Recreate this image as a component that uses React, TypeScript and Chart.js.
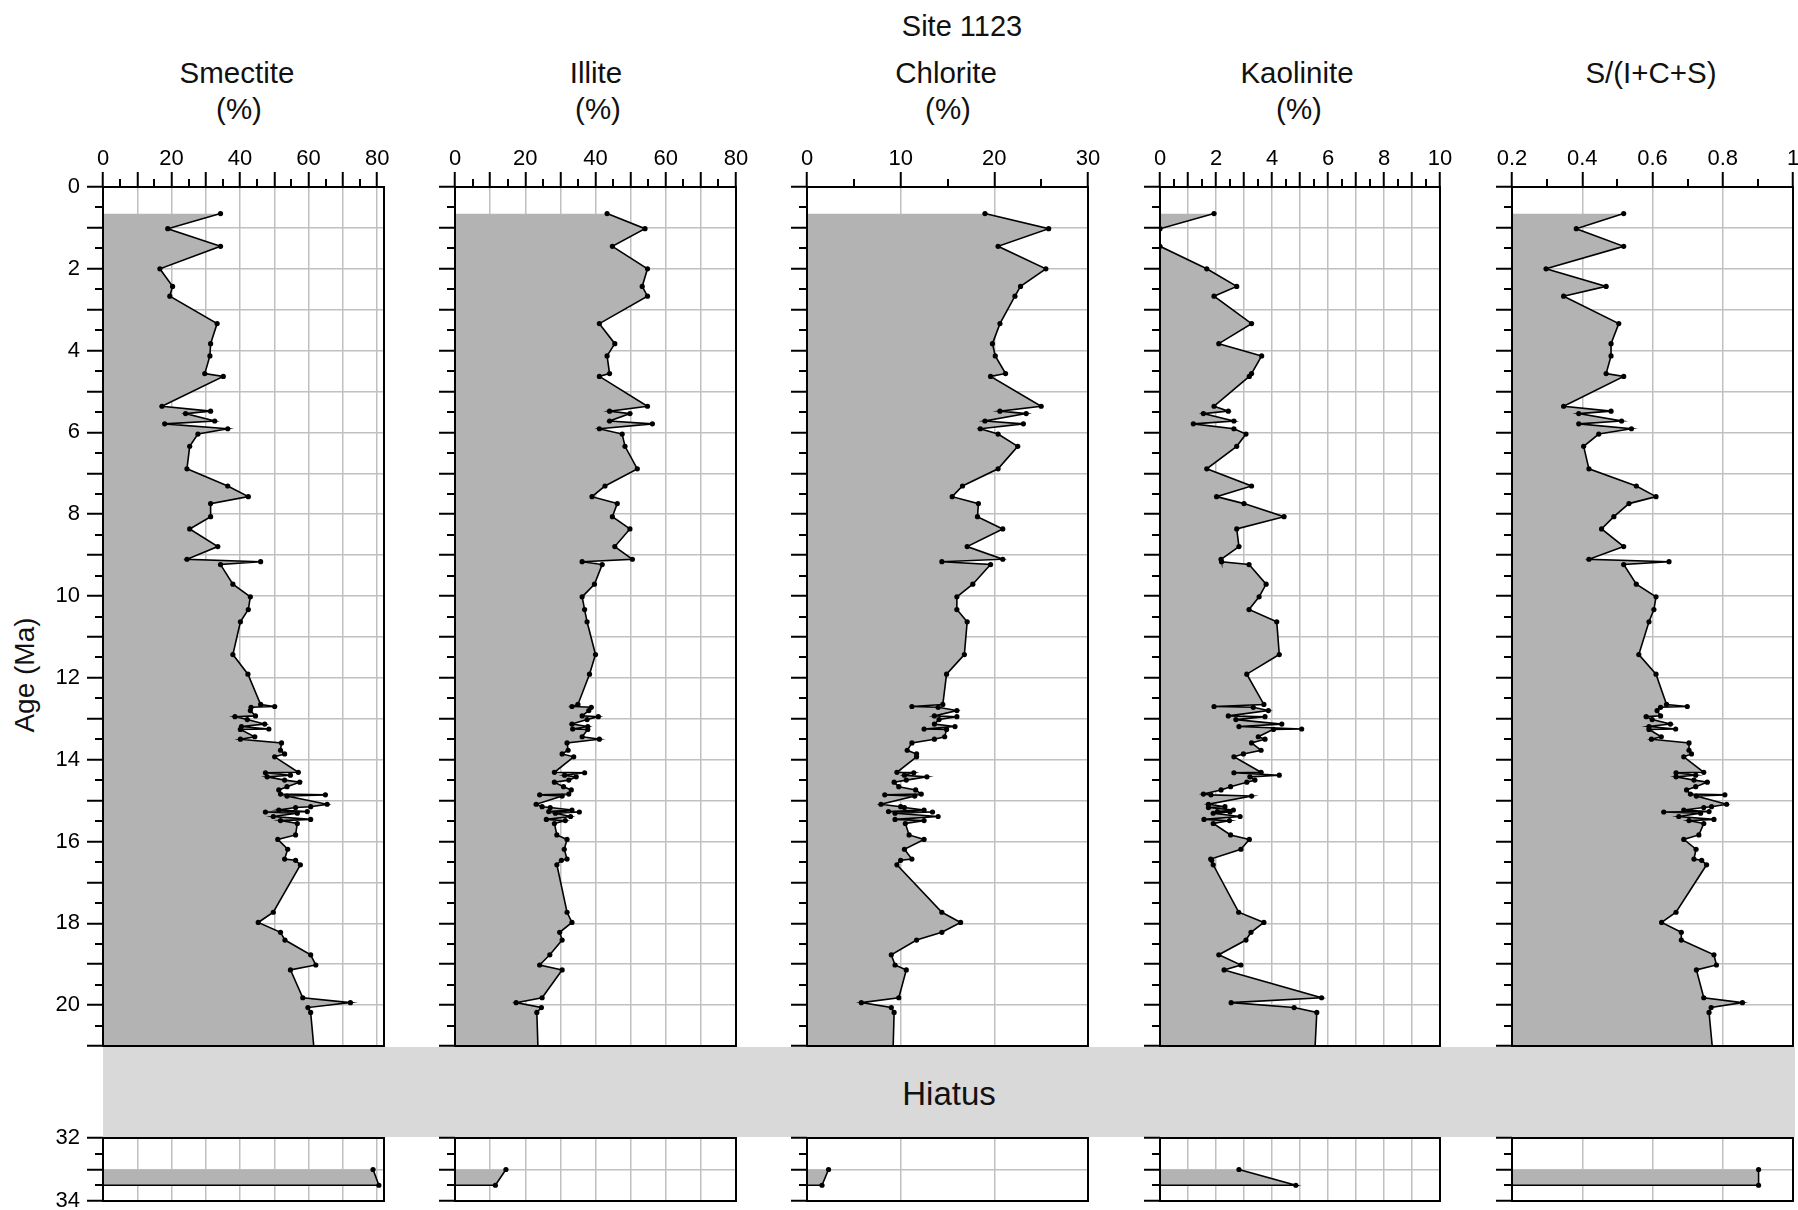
import React, { useEffect, useRef } from 'react';
import { Chart, registerables } from 'chart.js';

Chart.register(...registerables);

// ---------------- data (ages in Ma) ----------------
const upperAges = [0.65, 1.02, 1.45, 2.0, 2.43, 2.67, 3.34, 3.83, 4.13, 4.56, 4.63, 5.36, 5.48, 5.54, 5.72, 5.79, 5.91, 6.04, 6.34, 6.89, 7.31, 7.57, 7.74, 8.06, 8.36, 8.79, 9.1, 9.16, 9.23, 9.71, 10.02, 10.33, 10.63, 11.43, 11.91];
const clusterAges = [12.65, 12.7, 12.72, 12.8, 12.93, 12.95, 13.02, 13.13, 13.19, 13.25, 13.26, 13.44, 13.5, 13.59, 13.77, 13.86, 13.93, 14.31, 14.32, 14.38, 14.42, 14.5, 14.55, 14.66, 14.74, 14.84, 14.86, 14.89, 15.09, 15.15, 15.17, 15.23, 15.27, 15.28, 15.31, 15.39, 15.46, 15.49, 15.56, 15.84];
const lowerAges = [15.95, 16.19, 16.43, 16.46, 16.57, 17.73, 17.98, 18.22, 18.41, 18.77, 19.02, 19.14, 19.82, 19.94, 20.06, 20.18, 21.0];
const oldAges = [33.0, 33.5];

const smectiteUpper = [34.3, 18.9, 34.3, 16.6, 20.3, 19.5, 33.3, 31.4, 31.2, 29.7, 35.1, 17.2, 31.4, 24.1, 32.6, 18.0, 36.4, 27.7, 25.3, 24.5, 36.4, 42.4, 31.4, 31.4, 25.3, 33.5, 24.5, 46.0, 34.3, 37.9, 43.0, 42.4, 40.1, 37.9, 42.3];
const smectiteCluster = [46.0, 50.1, 43.2, 43.0, 44.5, 38.5, 42.1, 47.2, 40.4, 48.4, 40.1, 44.3, 40.1, 52.1, 51.8, 53.0, 50.1, 57.0, 47.4, 54.7, 47.9, 53.0, 57.4, 53.7, 51.3, 51.8, 64.9, 53.7, 65.4, 60.6, 56.2, 51.3, 59.6, 47.4, 56.7, 49.7, 60.6, 51.8, 56.7, 56.2];
const smectiteLower = [51.0, 53.9, 53.0, 56.2, 57.6, 49.7, 45.3, 51.8, 53.1, 60.6, 62.1, 54.7, 58.3, 72.2, 59.8, 60.6, 61.5];
const smectiteOld = [78.8, 80.5];

const illiteUpper = [43.3, 54.1, 44.8, 54.8, 53.3, 54.8, 41.1, 45.5, 43.3, 44.0, 41.1, 54.8, 44.0, 49.8, 44.0, 56.2, 41.1, 47.6, 48.4, 51.9, 42.7, 39.0, 46.2, 44.8, 49.8, 45.5, 50.5, 36.2, 41.9, 39.7, 36.2, 36.9, 37.6, 40.0, 38.3];
const illiteCluster = [35.0, 33.3, 38.8, 38.1, 36.2, 40.8, 37.6, 33.3, 37.8, 33.5, 37.8, 36.2, 41.1, 31.9, 32.2, 30.5, 33.8, 28.3, 36.9, 31.2, 34.5, 32.4, 28.3, 30.9, 33.1, 32.4, 24.1, 30.5, 23.1, 24.8, 27.1, 33.3, 26.7, 35.4, 28.6, 32.9, 26.0, 31.4, 28.3, 29.0];
const illiteLower = [31.9, 31.1, 31.9, 30.3, 29.0, 31.9, 33.3, 29.8, 30.5, 27.0, 24.1, 30.5, 24.8, 17.4, 24.6, 23.3, 23.6];
const illiteOld = [14.5, 11.5];

const chloriteUpper = [19.0, 25.8, 20.4, 25.5, 22.8, 22.2, 20.6, 19.8, 20.1, 21.2, 19.6, 25.0, 20.6, 23.4, 19.0, 23.1, 18.5, 20.4, 22.5, 20.4, 16.6, 15.5, 18.3, 18.2, 20.9, 17.1, 20.9, 14.4, 19.6, 17.7, 16.0, 16.0, 17.1, 16.8, 14.9];
const chloriteCluster = [14.5, 11.2, 14.0, 16.0, 13.6, 16.0, 14.1, 13.6, 15.8, 12.5, 14.9, 14.7, 13.6, 11.2, 10.7, 11.7, 11.7, 9.6, 11.4, 10.4, 12.8, 10.6, 9.3, 9.8, 11.6, 12.2, 8.3, 11.5, 7.9, 10.0, 10.4, 12.5, 8.7, 13.4, 9.4, 14.0, 9.4, 12.5, 10.5, 10.9];
const chloriteLower = [12.5, 10.4, 11.2, 10.0, 9.6, 14.4, 16.4, 14.4, 11.7, 9.0, 9.4, 10.6, 9.8, 5.8, 9.0, 9.3, 9.2];
const chloriteOld = [2.3, 1.6];

const kaoliniteUpper = [1.93, 0, 0, 1.67, 2.74, 1.93, 3.27, 2.1, 3.63, 3.27, 3.19, 1.93, 2.44, 1.55, 2.64, 1.19, 2.64, 3.07, 2.74, 1.67, 3.27, 2.02, 3.0, 4.43, 2.74, 2.82, 2.18, 2.2, 3.18, 3.79, 3.54, 3.18, 4.17, 4.26, 3.1];
const kaoliniteCluster = [3.71, 1.93, 3.33, 3.87, 2.44, 3.75, 2.71, 4.35, 2.82, 5.06, 4.05, 3.51, 3.75, 3.27, 3.61, 2.98, 2.64, 3.61, 2.64, 4.26, 3.21, 3.39, 3.1, 2.52, 2.18, 1.55, 1.82, 3.27, 1.73, 2.32, 1.73, 2.62, 2.05, 2.5, 1.9, 2.86, 1.57, 2.48, 1.9, 2.52];
const kaoliniteLower = [3.19, 2.89, 1.81, 1.85, 1.9, 2.81, 3.71, 3.25, 3.07, 2.1, 2.89, 2.29, 5.77, 2.54, 4.79, 5.6, 5.54];
const kaoliniteOld = [2.82, 4.85];

const ratioUpper = [0.518, 0.383, 0.518, 0.297, 0.468, 0.347, 0.504, 0.482, 0.482, 0.468, 0.518, 0.347, 0.482, 0.39, 0.512, 0.39, 0.54, 0.447, 0.404, 0.419, 0.554, 0.61, 0.533, 0.49, 0.455, 0.518, 0.419, 0.647, 0.518, 0.554, 0.61, 0.604, 0.59, 0.561, 0.61];
const ratioCluster = [0.64, 0.699, 0.623, 0.613, 0.623, 0.582, 0.599, 0.651, 0.59, 0.666, 0.59, 0.625, 0.597, 0.704, 0.704, 0.711, 0.689, 0.746, 0.667, 0.723, 0.667, 0.718, 0.756, 0.723, 0.697, 0.708, 0.806, 0.725, 0.811, 0.768, 0.746, 0.689, 0.761, 0.632, 0.737, 0.675, 0.775, 0.704, 0.746, 0.732];
const ratioLower = [0.689, 0.724, 0.718, 0.74, 0.754, 0.667, 0.626, 0.682, 0.682, 0.775, 0.782, 0.725, 0.746, 0.856, 0.767, 0.761, 0.77];
const ratioOld = [0.902, 0.902];

// ---------------- layout / style ----------------
const FONT = "'Liberation Sans', Arial, Helvetica, sans-serif";
const FILL = '#b3b3b3';
const GRID = '#c0c0c0';
const TOP = 187;
const BOTTOM = 1046;
const OLD_TOP = 1138;
const LEFT_SPACE = 100;
const RIGHT_SPACE = 20;

const isMult = (v: number, step: number) => Math.abs(v / step - Math.round(v / step)) < 1e-6;

const panels = [
  { key: 'smectite', title: 'Smectite', unit: '(%)', tx: 237, L: 103, R: 384, min: 0, max: 82, major: 10, minor: 5, labelEvery: 20,
    young: [...smectiteUpper, ...smectiteCluster, ...smectiteLower], old: smectiteOld, fmt: (v: number) => String(v) },
  { key: 'illite', title: 'Illite', unit: '(%)', tx: 596, L: 455, R: 736, min: 0, max: 80, major: 10, minor: 5, labelEvery: 20,
    young: [...illiteUpper, ...illiteCluster, ...illiteLower], old: illiteOld, fmt: (v: number) => String(v) },
  { key: 'chlorite', title: 'Chlorite', unit: '(%)', tx: 946, L: 807, R: 1088, min: 0, max: 30, major: 10, minor: 5, labelEvery: 10,
    young: [...chloriteUpper, ...chloriteCluster, ...chloriteLower], old: chloriteOld, fmt: (v: number) => String(v) },
  { key: 'kaolinite', title: 'Kaolinite', unit: '(%)', tx: 1297, L: 1160, R: 1440, min: 0, max: 10, major: 1, minor: 0.5, labelEvery: 2,
    young: [...kaoliniteUpper, ...kaoliniteCluster, ...kaoliniteLower], old: kaoliniteOld, fmt: (v: number) => String(v) },
  { key: 'ratio', title: 'S/(I+C+S)', unit: '', tx: 1651, L: 1512, R: 1793, min: 0.2, max: 1, major: 0.2, minor: 0.1, labelEvery: 0.2,
    young: [...ratioUpper, ...ratioCluster, ...ratioLower], old: ratioOld, fmt: (v: number) => (Math.abs(v - 1) < 1e-9 ? '1' : v.toFixed(1)) },
];

const youngAges = [...upperAges, ...clusterAges, ...lowerAges];

const decoPlugin = {
  id: 'deco',
  afterDatasetsDraw(chart: any, _args: any, opts: any) {
    const { ctx, chartArea: a } = chart;
    const xs = chart.scales.x;
    const ys = chart.scales.y;
    ctx.save();
    ctx.strokeStyle = '#000';
    ctx.lineWidth = 2;
    ctx.beginPath();
    if (opts.xMinor) {
      for (let v = xs.min + opts.xMinor; v < xs.max + 1e-9; v += opts.xMajor) {
        const px = Math.round(xs.getPixelForValue(v));
        ctx.moveTo(px, a.top);
        ctx.lineTo(px, a.top - 8);
      }
    }
    for (let v = ys.min + 0.5; v < ys.max; v += 1) {
      const py = Math.round(ys.getPixelForValue(v));
      ctx.moveTo(a.left, py);
      ctx.lineTo(a.left - 8, py);
    }
    ctx.stroke();
    ctx.strokeRect(a.left, a.top, a.right - a.left, a.bottom - a.top);
    ctx.restore();
  },
};

function buildChart(canvas: HTMLCanvasElement, p: any, isYoung: boolean, showYLabels: boolean) {
  const ages = isYoung ? youngAges : [...oldAges, oldAges[oldAges.length - 1]];
  const vals = isYoung ? p.young : [...p.old, p.min];
  const data = ages.map((a: number, i: number) => ({ x: vals[i], y: a }));
  const n = data.length;
  const radii = data.map((_: any, i: number) => (i === n - 1 ? 0 : 2.6));
  const topSpace = isYoung ? TOP - 120 : 10;
  const bottomPad = isYoung ? 4 : 9;

  return new Chart(canvas, {
    type: 'line',
    data: {
      datasets: [
        {
          data,
          borderColor: '#000',
          borderWidth: 1.6,
          backgroundColor: FILL,
          fill: 'start',
          pointRadius: radii,
          pointBackgroundColor: '#000',
          pointBorderColor: '#000',
          pointBorderWidth: 0,
          tension: 0,
        } as any,
      ],
    },
    options: {
      indexAxis: 'y',
      responsive: false,
      maintainAspectRatio: false,
      animation: false,
      events: [],
      layout: { padding: { left: 0, right: RIGHT_SPACE, top: 0, bottom: bottomPad } },
      plugins: {
        legend: { display: false },
        tooltip: { enabled: false },
        deco: { xMinor: isYoung ? p.minor : 0, xMajor: p.major },
      } as any,
      scales: {
        x: {
          type: 'linear',
          position: 'top',
          min: p.min,
          max: p.max,
          ticks: {
            stepSize: p.major,
            autoSkip: false,
            includeBounds: false,
            display: isYoung,
            padding: 0,
            maxRotation: 0,
            minRotation: 0,
            color: '#000',
            font: { family: FONT, size: 22 },
            callback: (v: any) => (isMult(Number(v), p.labelEvery) ? p.fmt(Number(v)) : ''),
          },
          grid: { color: GRID, lineWidth: 1.5, drawTicks: isYoung, tickLength: 15, tickWidth: 2, tickColor: '#000' },
          border: { display: false },
          afterFit: (s: any) => {
            s.height = topSpace;
            s.paddingLeft = 0;
            s.paddingRight = 0;
          },
        } as any,
        y: {
          type: 'linear',
          position: 'left',
          reverse: true,
          min: isYoung ? 0 : 32,
          max: isYoung ? 21 : 34,
          ticks: {
            stepSize: 1,
            autoSkip: false,
            includeBounds: false,
            padding: 7,
            color: '#000',
            font: { family: FONT, size: 22 },
            callback: (v: any) => (showYLabels && isMult(Number(v), 2) ? String(v) : ''),
          },
          grid: { color: GRID, lineWidth: 1.5, drawTicks: true, tickLength: 16, tickWidth: 2, tickColor: '#000' },
          border: { display: false },
          afterFit: (s: any) => {
            s.width = LEFT_SPACE;
            s.paddingTop = 0;
            s.paddingBottom = 0;
          },
        } as any,
      },
    } as any,
    plugins: [decoPlugin as any],
  });
}

function Panel({ p, index, isYoung }: { p: any; index: number; isYoung: boolean }) {
  const ref = useRef<HTMLCanvasElement | null>(null);
  const left = p.L - LEFT_SPACE;
  const width = p.R - p.L + LEFT_SPACE + RIGHT_SPACE;
  const top = isYoung ? 120 : OLD_TOP - 10;
  const height = isYoung ? BOTTOM + 4 - 120 : 1210 - (OLD_TOP - 10);
  useEffect(() => {
    if (!ref.current) return;
    const c = buildChart(ref.current, p, isYoung, index === 0);
    return () => c.destroy();
  }, []);
  return (
    <canvas
      ref={ref}
      width={width}
      height={height}
      style={{ position: 'absolute', left, top, width, height }}
    />
  );
}

const textStyle = (x: number, y: number, size: number): React.CSSProperties => ({
  position: 'absolute',
  left: x,
  top: y,
  transform: 'translate(-50%, -50%)',
  fontFamily: FONT,
  fontSize: size,
  lineHeight: 1,
  whiteSpace: 'nowrap',
  color: '#111',
});

export default function App() {
  return (
    <div
      style={{
        position: 'fixed',
        left: 0,
        top: 0,
        width: 1798,
        height: 1210,
        background: '#fff',
        overflow: 'hidden',
      }}
    >
      <div style={textStyle(962, 26, 29)}>Site 1123</div>
      {panels.map((p) => (
        <React.Fragment key={p.key + '-t'}>
          <div style={textStyle(p.tx, 73, 29.5)}>{p.title}</div>
          {p.unit ? <div style={textStyle(p.tx + 2, 109, 29.5)}>{p.unit}</div> : null}
        </React.Fragment>
      ))}
      <div
        style={{
          ...textStyle(25, 675, 28),
          transform: 'translate(-50%, -50%) rotate(-90deg)',
        }}
      >
        Age (Ma)
      </div>
      <div
        style={{
          position: 'absolute',
          left: 103,
          top: 1047,
          width: 1795 - 103,
          height: 1137 - 1047,
          background: '#d9d9d9',
        }}
      />
      <div style={textStyle(949, 1093, 33)}>Hiatus</div>
      {panels.map((p, i) => (
        <Panel key={p.key + '-y'} p={p} index={i} isYoung={true} />
      ))}
      {panels.map((p, i) => (
        <Panel key={p.key + '-o'} p={p} index={i} isYoung={false} />
      ))}
    </div>
  );
}
